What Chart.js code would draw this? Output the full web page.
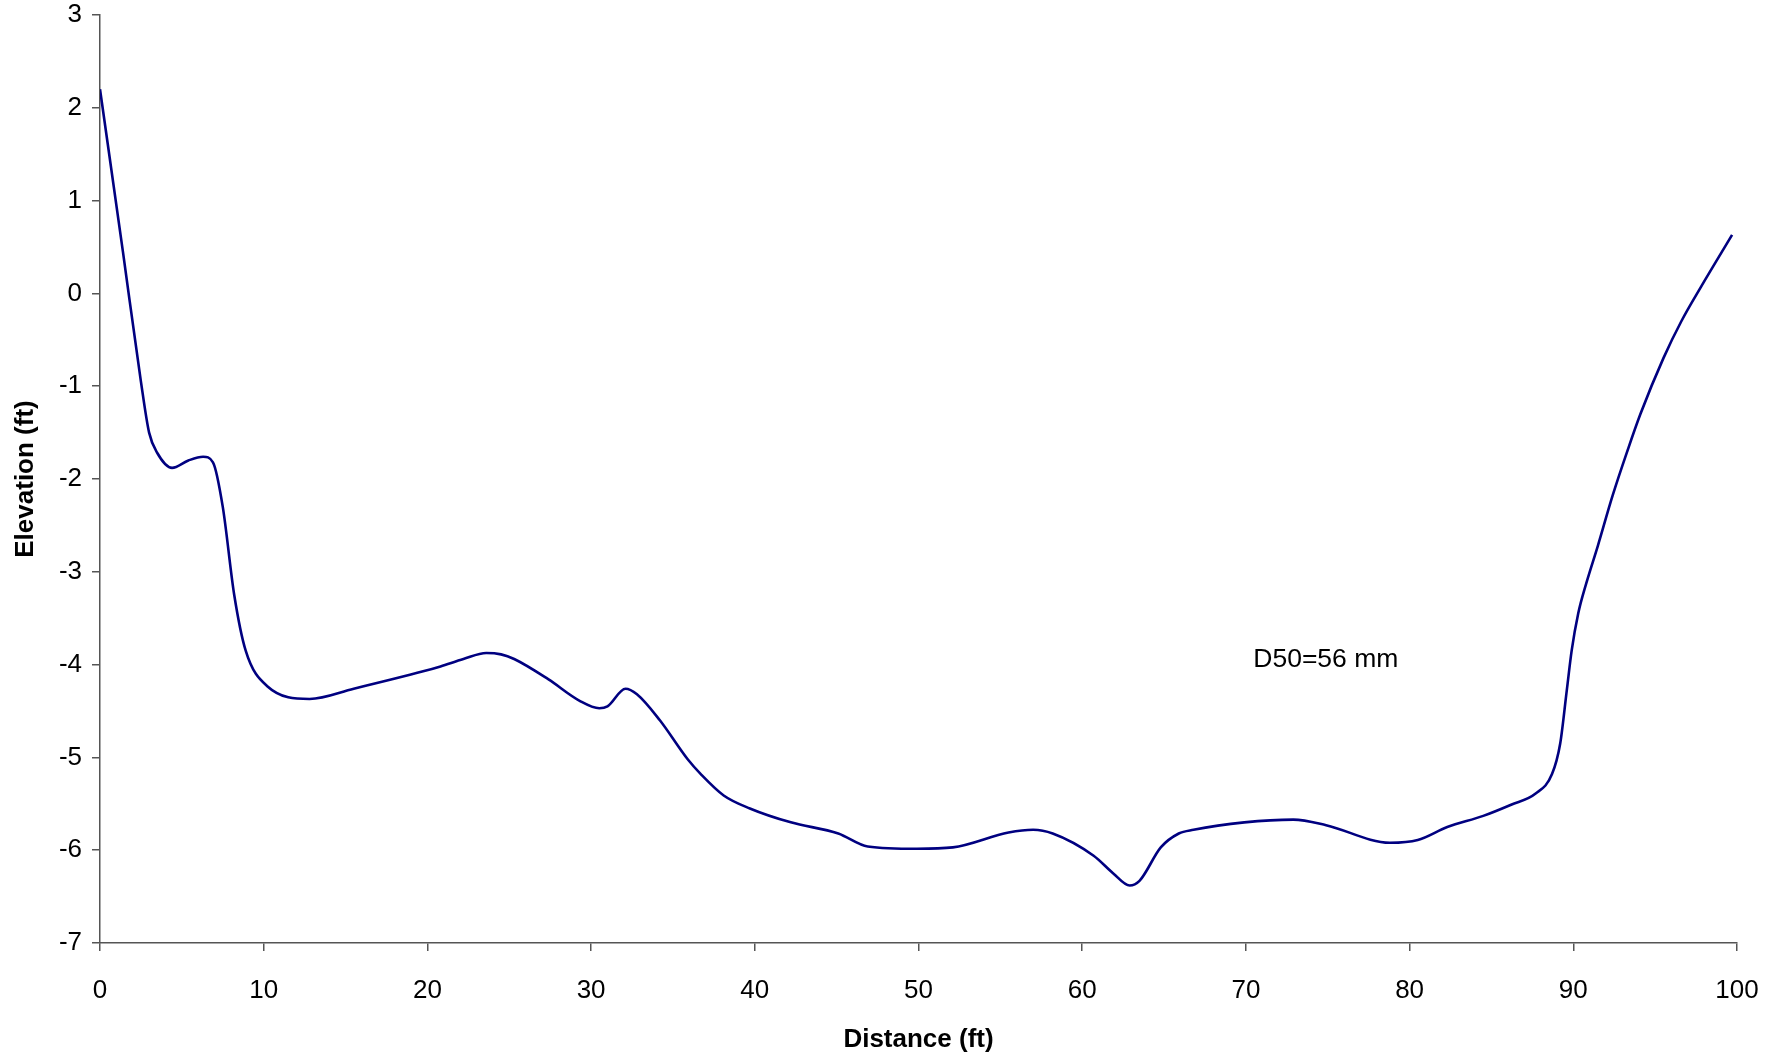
<!DOCTYPE html>
<html>
<head>
<meta charset="utf-8">
<script src="https://cdn.jsdelivr.net/npm/chart.js@4.4.1/dist/chart.umd.min.js"></script>
<style>
  html, body { margin: 0; padding: 0; background: #fff; }
  #wrap { width: 1788px; height: 1060px; }
</style>
</head>
<body>
<div id="wrap"><canvas id="c" width="1788" height="1060"></canvas></div>
<script>
// Cross-section survey: distance along the section (ft) and bed elevation (ft)
const distance = [0, 1.4, 2.5, 3.0, 3.5, 4.4, 5.4, 6.3, 6.9, 7.5, 8.2, 8.9, 10.2, 12.8, 15.5, 19.8, 20.8, 22.2, 23.6, 24.5,
  25.3, 27.4, 29.3, 30.5, 31.0, 32.1, 32.8, 34.2, 35.9, 36.7, 38.1, 39.7, 42.2, 45.1, 46.9, 49.9, 52.1, 55.5, 57.0, 58.2,
  60.7, 61.9, 62.9, 63.5, 64.8, 65.9, 66.8, 69.9, 72.9, 74.9, 78.8, 80.5, 82.3, 84.5, 86.2, 87.7, 88.7, 89.2, 89.6, 89.9,
  90.3, 90.8, 91.5, 92.4, 93.3, 94.1, 95.5, 96.6, 97.8, 99.7];
const elevation = [2.2, 0.45, -0.95, -1.5, -1.72, -1.88, -1.80, -1.76, -1.82, -2.3, -3.25, -3.85, -4.23, -4.37, -4.26, -4.07, -4.02, -3.94, -3.875, -3.89,
  -3.94, -4.16, -4.39, -4.47, -4.45, -4.26, -4.32, -4.60, -5.02, -5.18, -5.41, -5.55, -5.70, -5.82, -5.96, -5.985, -5.97, -5.81, -5.78, -5.82,
  -6.06, -6.25, -6.38, -6.33, -5.97, -5.82, -5.78, -5.70, -5.67, -5.73, -5.92, -5.89, -5.75, -5.63, -5.51, -5.39, -5.18, -4.85, -4.28, -3.85,
  -3.45, -3.12, -2.72, -2.18, -1.70, -1.30, -0.70, -0.30, 0.07, 0.63];

// Axis ranges and tick steps
const xRange = [0, 100], xStep = 10;
const yRange = [-7, 3], yStep = 1;

const annotationText = 'D50=56 mm';
const annotationAt = { x: 70.45, y: -3.95 };

const FONT = '"Liberation Sans", Arial, sans-serif';
const AXIS_COLOR = '#555555';

const points = distance.map((d, i) => ({ x: d, y: elevation[i] }));

const labelPlugin = {
  id: 'noteLabel',
  afterDatasetsDraw(chart) {
    const { ctx, scales } = chart;
    ctx.save();
    ctx.font = '26.5px ' + FONT;
    ctx.fillStyle = '#000';
    ctx.textAlign = 'left';
    ctx.textBaseline = 'middle';
    ctx.fillText(annotationText, scales.x.getPixelForValue(annotationAt.x), scales.y.getPixelForValue(annotationAt.y));
    ctx.restore();
  }
};

new Chart(document.getElementById('c'), {
  type: 'line',
  data: {
    datasets: [{
      data: points,
      borderColor: '#000080',
      borderWidth: 2.6,
      pointRadius: 0,
      fill: false,
      cubicInterpolationMode: 'monotone'
    }]
  },
  options: {
    responsive: false,
    animation: false,
    devicePixelRatio: 1,
    layout: { padding: { top: 15, right: 51, left: 0, bottom: 0 } },
    plugins: { legend: { display: false }, tooltip: { enabled: false } },
    scales: {
      x: {
        type: 'linear',
        min: xRange[0], max: xRange[1],
        afterFit(s) { s.height = 117; s.paddingLeft = 0; s.paddingRight = 0; },
        border: { display: true, color: AXIS_COLOR, width: 1.5 },
        grid: { drawOnChartArea: false, drawTicks: true, tickLength: 8, color: AXIS_COLOR, lineWidth: 1.5 },
        ticks: { stepSize: xStep, color: '#000', font: { family: FONT, size: 26 }, padding: 24, maxRotation: 0 },
        title: { display: true, text: 'Distance (ft)', color: '#000', font: { family: FONT, size: 26, weight: 'bold' }, padding: { top: 0, bottom: 5 } }
      },
      y: {
        type: 'linear',
        min: yRange[0], max: yRange[1],
        afterFit(s) { s.width = 100; s.paddingTop = 0; s.paddingBottom = 0; },
        border: { display: true, color: AXIS_COLOR, width: 1.5 },
        grid: { drawOnChartArea: false, drawTicks: true, tickLength: 8, color: AXIS_COLOR, lineWidth: 1.5 },
        ticks: { stepSize: yStep, color: '#000', font: { family: FONT, size: 26 }, padding: 10 },
        title: { display: true, text: 'Elevation (ft)', color: '#000', font: { family: FONT, size: 26, weight: 'bold' }, padding: { top: 10, bottom: 0 } }
      }
    }
  },
  plugins: [labelPlugin]
});
</script>
</body>
</html>
